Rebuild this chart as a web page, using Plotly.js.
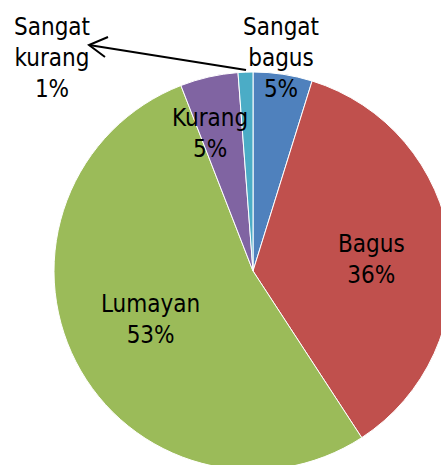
<!DOCTYPE html>
<html>
<head>
<meta charset="utf-8">
<script src="https://cdn.plot.ly/plotly-3.0.1.min.js"></script>
<style>
html,body{margin:0;padding:0;overflow:hidden;background:#fff;width:441px;height:465px;}
#chart{width:506px;height:560px;}
</style>
</head>
<body>
<div id="chart"></div>
<script>
// Data
var categories = ["Sangat bagus", "Bagus", "Lumayan", "Kurang", "Sangat kurang"];
var values = [4.8, 36.0, 53.3, 4.7, 1.2];
var colors = ["#4F81BD", "#C0504D", "#9BBB59", "#8064A2", "#4BACC6"];

var W = 506, H = 560;
function px(x){ return x / W; }
function py(y){ return 1 - y / H; }

var cx = 253, cy = 271, r = 199;

var total = values.reduce(function(a,b){return a+b;}, 0);
var pct = values.map(function(v){ return Math.round(v / total * 100) + "%"; });

// label positions (layout, pixel coordinates of label block centres)
var labelPos = [[281, 58], [371, 259], [150, 319], [210, 133], [52, 58]];

var annotations = categories.map(function(c, i){
  return {
    x: px(labelPos[i][0]), y: py(labelPos[i][1]),
    xref: "paper", yref: "paper",
    xanchor: "center", yanchor: "middle",
    showarrow: false,
    text: c.replace(" ", "<br>") + "<br>" + pct[i],
    font: {family: "DejaVu Sans Condensed, Liberation Sans Narrow, sans-serif", size: 24, color: "#000"},
    align: "center"
  };
});

var shapes = [
  {type: "line", xref: "paper", yref: "paper",
   x0: px(246), y0: py(70), x1: px(89), y1: py(45),
   line: {color: "#000", width: 2}},
  {type: "path", xref: "paper", yref: "paper",
   path: "M" + px(108) + "," + py(37) + " L" + px(89) + "," + py(45) + " L" + px(105) + "," + py(57),
   line: {color: "#000", width: 2}}
];

var trace = {
  type: "pie",
  labels: categories,
  values: values,
  sort: false,
  direction: "clockwise",
  rotation: 0,
  marker: {colors: colors, line: {color: "#ffffff", width: 1}},
  textinfo: "none",
  hoverinfo: "none",
  showlegend: false,
  domain: {x: [px(cx - r), px(cx + r)], y: [py(cy + r), py(cy - r)]}
};

var layout = {
  width: W, height: H,
  margin: {l: 0, r: 0, t: 0, b: 0},
  paper_bgcolor: "#ffffff",
  showlegend: false,
  annotations: annotations,
  shapes: shapes
};

Plotly.newPlot("chart", [trace], layout, {staticPlot: true, displayModeBar: false});
</script>
</body>
</html>
